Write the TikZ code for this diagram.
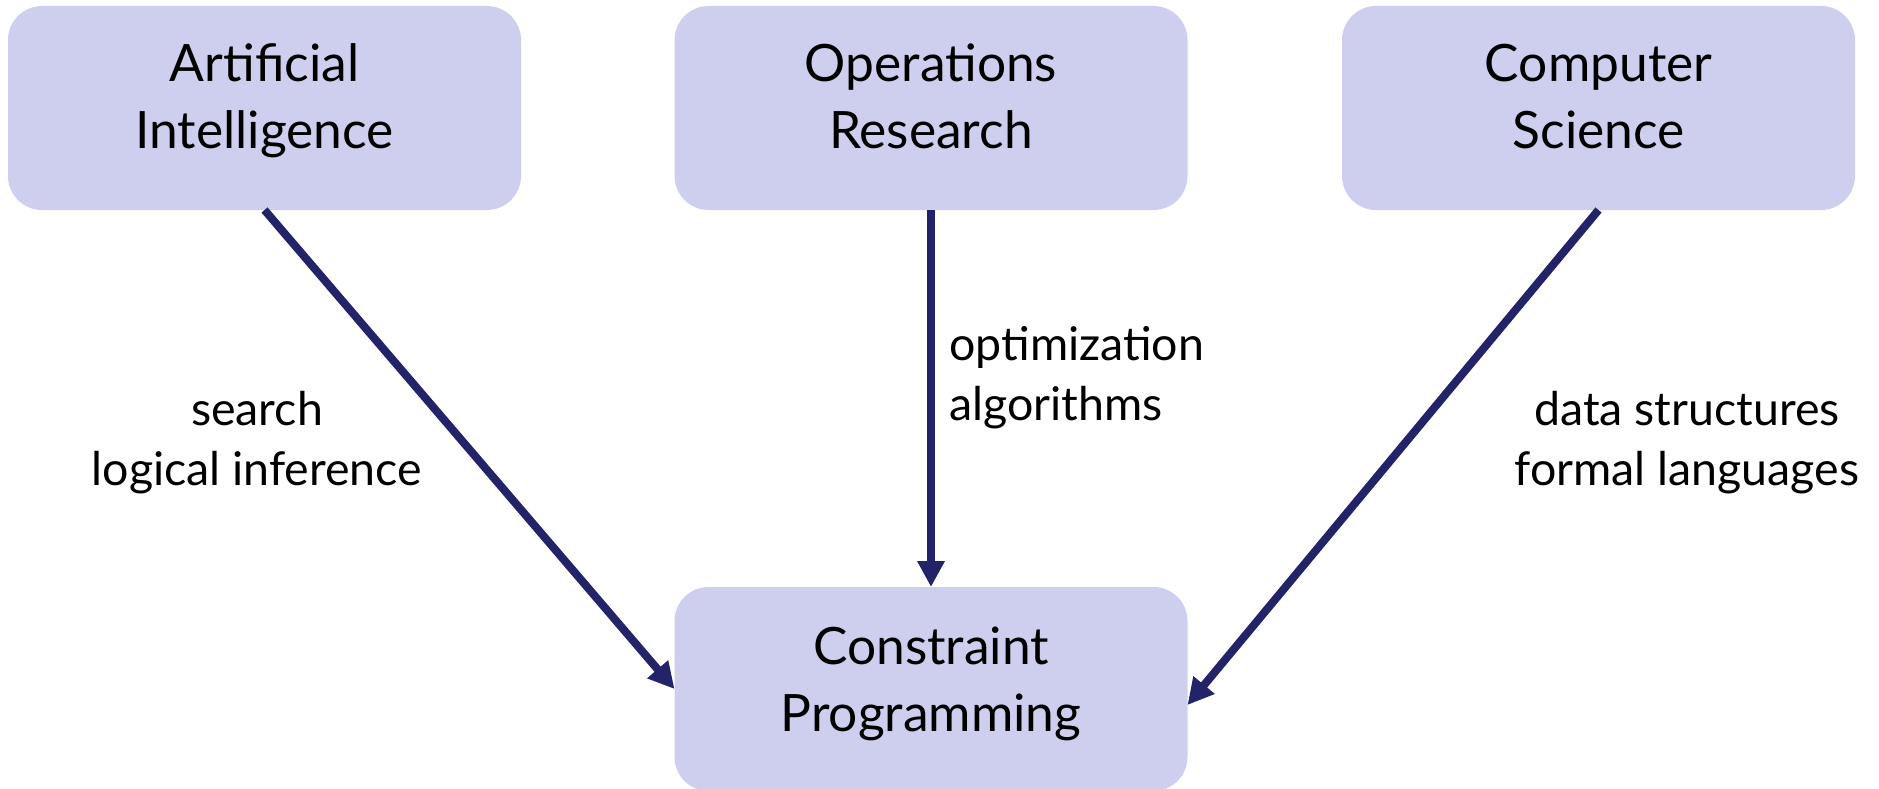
\documentclass[tikz,border=0pt]{standalone}
\usepackage{fontspec}
\setmainfont{Lato}
\usetikzlibrary{arrows.meta,calc}
\definecolor{boxfill}{RGB}{206,207,238}
\definecolor{linknavy}{RGB}{35,35,105}
\tikzset{
  field/.style={rectangle, rounded corners=34pt, fill=boxfill, draw=none,
    minimum width=513pt, minimum height=204pt, inner sep=0pt, outer sep=0pt},
  title/.style={anchor=base, align=center, inner sep=0pt,
    font=\fontsize{51.5}{67}\selectfont},
  note/.style={anchor=base, inner sep=0pt,
    font=\fontsize{46.5}{60}\selectfont},
  link/.style={draw=linknavy, line width=8pt,
    -{Triangle[width=26pt,length=26pt]}}
}
\begin{document}
\begin{tikzpicture}[x=1pt,y=-1pt]
  \useasboundingbox (0,0) rectangle (1879,789);

  % source fields and the target field
  \node[field] (ai) at (264.5,108) {};
  \node[field] (or) at (931,108) {};
  \node[field] (cs) at (1598.5,108) {};
  \node[field] (cp) at (931,689) {};

  % titles, last baseline 143pt below the top edge
  \node[title] (ai-t) at ($(ai.north)+(0,143)$) {Artificial\\Intelligence};
  \node[title] (or-t) at ($(or.north)+(0,143)$) {Operations\\Research};
  \node[title] (cs-t) at ($(cs.north)+(0,143)$) {Computer\\Science};
  \node[title] (cp-t) at ($(cp.north)+(0,144)$) {Constraint\\Programming};

  % contributions
  \draw[link] (ai.south) -- (cp.west);
  \draw[link] (or.south) -- (cp.north);
  \draw[link] (cs.south) -- ($(cp.east)+(0,16)$);

  % what each field brings
  \node[note, align=center] (ai-n) at (257,485) {search\\logical inference};
  \node[note, align=left, anchor=base west] (or-n) at (949,420) {optimization\\algorithms};
  \node[note, align=center] (cs-n) at (1687,485) {data structures\\formal languages};
\end{tikzpicture}
\end{document}
